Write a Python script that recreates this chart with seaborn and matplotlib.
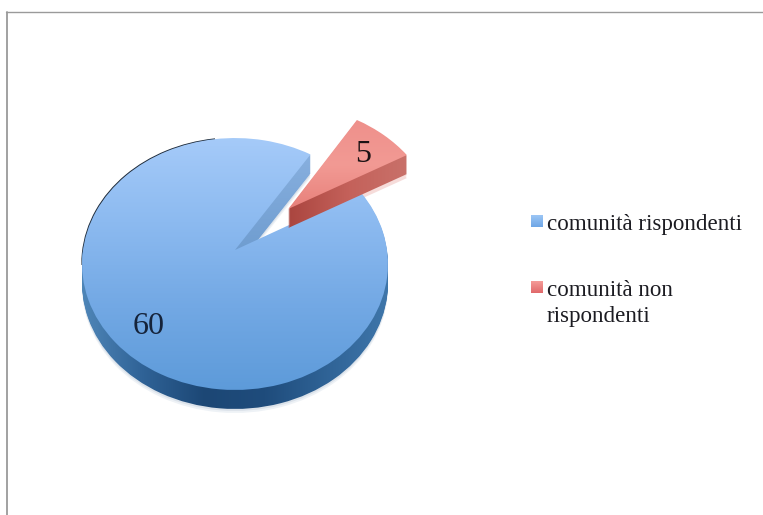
import numpy as np
import matplotlib
matplotlib.use("Agg")
import matplotlib.pyplot as plt
from matplotlib.lines import Line2D
from matplotlib.transforms import Transform
import seaborn as sns

# Survey response counts
categories = ["comunità rispondenti", "comunità non\nrispondenti"]
values = [60, 5]
swatch_ramps = [["#9cc6f5", "#6ea6e6"], ["#f59c98", "#e0686a"]]

W, H = 763, 515
CX, CY = 235.0, 250.0      # pie centre on the canvas, in pixels
RX, RY = 152.0, 124.4      # projected radii
TILT = 1 / 9               # perspective strength of the tilted disc
DEPTH = 19                 # thickness of the disc, in pixels
START = 57.1
EXPLODE = [0, 0.5]

sns.set_theme(style="white")
plt.rcParams["font.family"] = ["Liberation Serif", "DejaVu Serif"]


class DiscProjection(Transform):
    """Maps the unit pie onto a tilted disc, with an optional pixel offset."""
    input_dims = output_dims = 2
    is_separable = False
    has_inverse = False

    def __init__(self, dx=0.0, dy=0.0):
        super().__init__()
        self.dx, self.dy = dx, dy

    def transform_non_affine(self, xy):
        xy = np.asarray(xy, dtype=float)
        w = 1 + TILT * xy[:, 1]
        return np.column_stack([CX + self.dx + RX * xy[:, 0] / w,
                                CY + self.dy - RY * xy[:, 1] / w])


fig = plt.figure(figsize=(W / 100, H / 100), dpi=100, facecolor="white")
ax = fig.add_axes([0, 0, 1, 1])


def pie_layer(dx=0.0, dy=0.0):
    """One copy of the pie, pushed by (dx, dy) pixels; returns blue and red wedges."""
    wedges, _ = ax.pie(values, explode=EXPLODE, startangle=START, counterclock=True,
                       radius=1, wedgeprops=dict(linewidth=0, edgecolor="none",
                                                 facecolor="none"))
    projection = DiscProjection(dx, dy) + ax.transData
    for wedge in wedges:
        wedge.set_transform(projection)
    return wedges


def ramp_image(colors, extent, horizontal=False, zorder=1):
    ramp = np.array(sns.blend_palette(colors, n_colors=128))
    ramp = ramp[None, :, :3] if horizontal else ramp[:, None, :3]
    return ax.imshow(ramp, extent=extent, aspect="auto", origin="upper",
                     interpolation="bilinear", zorder=zorder)


def gradient_fill(wedge, colors, extent, horizontal=False, zorder=1):
    """Paint a colour ramp through the outline of a wedge."""
    image = ramp_image(colors, extent, horizontal, zorder)
    image.set_clip_path(wedge)
    return image


# Soft contact shadow below the disc
for offset, shade in ((DEPTH + 4, "#eef2f6"), (DEPTH + 2, "#dbe2ea")):
    blue, red = pie_layer(dy=offset)
    blue.set(facecolor=shade, zorder=0.2)
    red.set(facecolor="#f6dcda", zorder=0.2)

# Dark hairline along the upper left of the disc
hairline, _ = pie_layer(dx=-0.7, dy=-0.7)
gradient_fill(hairline, ["#1e2b3a", "#1e2b3a"],
              (CX - RX - 5, CX - 20, CY + 15, CY - RY), zorder=0.5)

# Extruded side: rim at the front and the lit wall inside the notch
for offset in range(DEPTH, 0, -1):
    blue, _ = pie_layer(dy=offset)
    gradient_fill(blue, ["#4f86b8", "#2f6296", "#1c4775", "#1f4c7c", "#2f6396", "#3f76aa"],
                  (CX - RX - 2, CX + RX + 2, H, CY), horizontal=True, zorder=1)
    gradient_fill(blue, ["#8fb5e3", "#6f9dd0"], (CX - 10, CX + RX, CY + 1, CY - RY),
                  zorder=1)

# Top surface of the large slice
top_blue, _ = pie_layer()
gradient_fill(top_blue, ["#a6cbf9", "#8cbaf0", "#72a8e4", "#5c9ad9"],
              (CX - RX - 5, CX + RX + 5, CY + 145, CY - RY + 10), zorder=2)

# Wall and top surface of the exploded slice
for offset in range(DEPTH, 0, -1):
    _, red = pie_layer(dy=offset)
    gradient_fill(red, ["#a9443e", "#c4615a", "#c9726b"], (285, 412, 240, 110),
                  horizontal=True, zorder=3)
_, top_red = pie_layer()
gradient_fill(top_red, ["#ee8f8a", "#f29a94", "#e67d77"], (285, 412, 215, 115), zorder=4)

# Value labels on the slices
ax.text(148.5, 326, str(values[0]), ha="center", va="center", fontsize=23,
        color="#15233a", zorder=5)
ax.text(363, 155, str(values[1]), ha="center", va="center", fontsize=23,
        color="#1b1214", zorder=5)

# Legend swatches and captions
for name, ramp, swatch_top, text_top in zip(categories, swatch_ramps, (215, 281), (214, 280)):
    ramp_image(ramp, (531, 543, swatch_top + 12, swatch_top), zorder=5)
    ax.text(547, text_top, name, ha="left", va="top", fontsize=16.6, linespacing=1.33,
            color="#1c1c22", zorder=5)

ax.set_xlim(0, W)
ax.set_ylim(H, 0)
ax.set_aspect("auto")
ax.axis("off")

# Thin frame around the plot area
frame = "#9a9a9a"
fig.add_artist(Line2D([6 / W, 1], [1 - 11.5 / H] * 2, color=frame, lw=1.0))
fig.add_artist(Line2D([6.5 / W] * 2, [0, 1 - 11.5 / H], color=frame, lw=1.3))

fig.savefig("out.png", dpi=100)
